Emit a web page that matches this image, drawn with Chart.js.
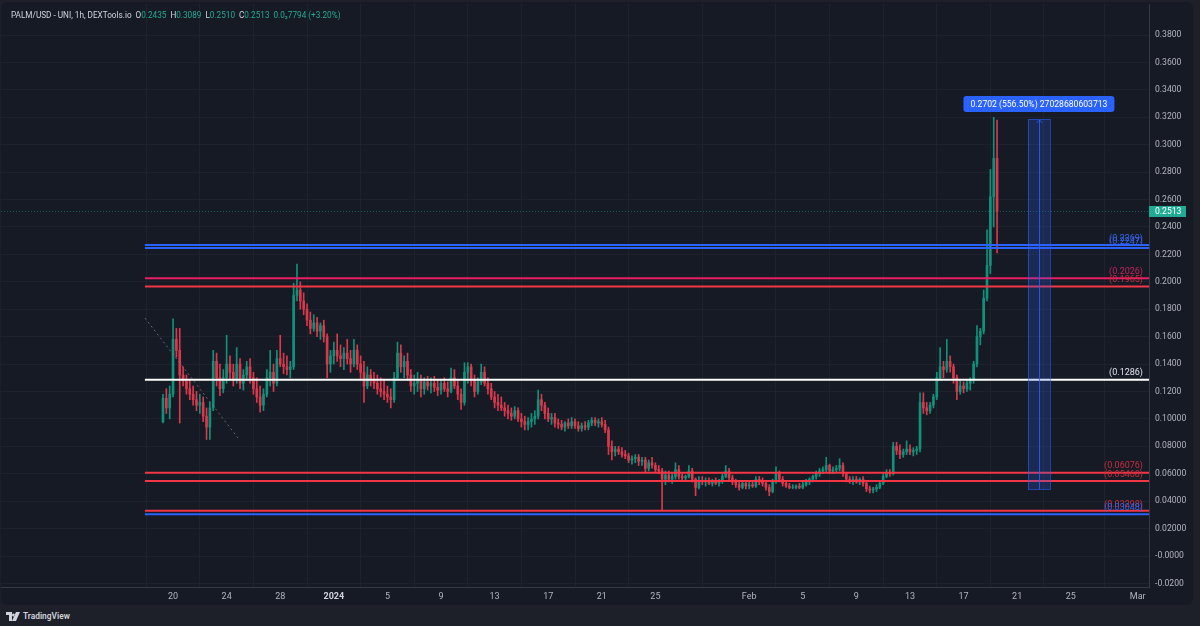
<!DOCTYPE html>
<html>
<head>
<meta charset="utf-8">
<script src="https://cdn.jsdelivr.net/npm/chart.js@4.4.0/dist/chart.umd.min.js"></script>
<style>
html, body { margin: 0; padding: 0; width: 1200px; height: 626px; overflow: hidden; background: #1e2029; font-family: Roboto, "Noto Sans", sans-serif; }
#pane { position: absolute; left: 1px; top: 2px; width: 1192px; height: 603px; background: #161a25; border-radius: 6px; overflow: hidden; }
#chart { display: block; }
#legend { position: absolute; left: 11px; top: 9px; font-size: 8.2px; line-height: 12px; color: #d1d4dc; white-space: nowrap; }
#legend .v { color: #22ab94; }
#legend .s { margin-left: 4px; }
#brand { position: absolute; left: 6px; top: 609px; height: 14px; display: flex; align-items: center; color: #d1d4dc; font-size: 8.4px; font-weight: 600; }
#brand svg { margin-right: 3px; }
</style>
</head>
<body>
<div id="pane"><canvas id="chart"></canvas></div>
<div id="legend">PALM/USD - UNI, 1h, DEXTools.io<span class="s">O</span><span class="v">0.2435</span><span class="s">H</span><span class="v">0.3089</span><span class="s">L</span><span class="v">0.2510</span><span class="s">C</span><span class="v">0.2513</span><span class="s v">0.0₂7794 (+3.20%)</span></div>
<div id="brand"><svg width="14" height="9" viewBox="0 0 14 9"><path d="M0 0h6v9H3V3H0z M7.5 1.5a1.5 1.5 0 1 0 0.01 0z M10 0h4l-4 9H6z" fill="#d1d4dc"/></svg>TradingView</div>
<script>
// days counted from Dec 20 2023 00:00, one candle = 6h
const candleStart = -0.75;
const candleStep = 0.25;

// [open, high, low, close]
const ohlc = [
    [0.098, 0.118, 0.097, 0.115], [0.115, 0.122, 0.104, 0.108], [0.108, 0.124, 0.100, 0.118], // Dec 19
    [0.118, 0.173, 0.116, 0.158], [0.158, 0.166, 0.145, 0.150], [0.150, 0.166, 0.097, 0.132], [0.132, 0.138, 0.124, 0.128], // Dec 20
    [0.128, 0.132, 0.118, 0.122], [0.122, 0.128, 0.114, 0.118], [0.118, 0.124, 0.110, 0.114], [0.114, 0.120, 0.106, 0.110],
    [0.110, 0.118, 0.104, 0.112], [0.112, 0.116, 0.098, 0.102], [0.102, 0.108, 0.085, 0.094], [0.094, 0.112, 0.085, 0.108],
    [0.108, 0.150, 0.106, 0.142], [0.142, 0.148, 0.124, 0.130], [0.130, 0.140, 0.117, 0.122], [0.122, 0.136, 0.119, 0.130],
    [0.130, 0.161, 0.126, 0.140], [0.140, 0.146, 0.128, 0.134], [0.134, 0.140, 0.124, 0.128], [0.128, 0.152, 0.126, 0.140], // Dec 24
    [0.140, 0.144, 0.122, 0.126], [0.126, 0.136, 0.121, 0.132], [0.132, 0.142, 0.128, 0.138], [0.138, 0.144, 0.126, 0.130],
    [0.130, 0.134, 0.118, 0.122], [0.122, 0.130, 0.112, 0.116], [0.116, 0.124, 0.105, 0.110], [0.110, 0.122, 0.106, 0.118],
    [0.118, 0.136, 0.116, 0.130], [0.130, 0.150, 0.124, 0.134], [0.134, 0.140, 0.120, 0.126], [0.126, 0.150, 0.124, 0.144],
    [0.144, 0.161, 0.138, 0.140], [0.140, 0.148, 0.133, 0.138], [0.138, 0.146, 0.132, 0.136], [0.136, 0.142, 0.130, 0.138], // Dec 28
    [0.138, 0.199, 0.136, 0.190], [0.190, 0.213, 0.186, 0.194], [0.194, 0.200, 0.180, 0.186], [0.186, 0.192, 0.176, 0.180],
    [0.180, 0.184, 0.168, 0.172], [0.172, 0.178, 0.162, 0.166], [0.166, 0.176, 0.164, 0.170], [0.170, 0.174, 0.160, 0.164],
    [0.164, 0.170, 0.158, 0.168], [0.168, 0.172, 0.156, 0.160], [0.160, 0.162, 0.130, 0.140], [0.140, 0.150, 0.134, 0.146],
    [0.146, 0.156, 0.140, 0.150], [0.150, 0.162, 0.142, 0.146], [0.146, 0.154, 0.138, 0.144], [0.144, 0.152, 0.136, 0.148], // Jan 1
    [0.148, 0.158, 0.140, 0.144], [0.144, 0.150, 0.134, 0.140], [0.140, 0.158, 0.138, 0.150], [0.150, 0.154, 0.136, 0.140],
    [0.140, 0.146, 0.128, 0.134], [0.134, 0.142, 0.112, 0.124], [0.124, 0.138, 0.122, 0.132], [0.132, 0.136, 0.124, 0.128],
    [0.128, 0.134, 0.122, 0.126], [0.126, 0.132, 0.118, 0.122], [0.122, 0.130, 0.116, 0.120], [0.120, 0.128, 0.114, 0.118],
    [0.118, 0.124, 0.112, 0.116], [0.116, 0.122, 0.108, 0.114], [0.114, 0.134, 0.112, 0.130], [0.130, 0.156, 0.128, 0.148], // Jan 5
    [0.148, 0.154, 0.134, 0.138], [0.138, 0.146, 0.130, 0.142], [0.142, 0.148, 0.128, 0.132], [0.132, 0.136, 0.120, 0.124],
    [0.124, 0.132, 0.118, 0.126], [0.126, 0.134, 0.120, 0.128], [0.128, 0.132, 0.116, 0.122], [0.122, 0.130, 0.118, 0.127],
    [0.127, 0.131, 0.121, 0.124], [0.124, 0.130, 0.119, 0.126], [0.126, 0.131, 0.120, 0.123], [0.123, 0.128, 0.117, 0.121],
    [0.121, 0.128, 0.118, 0.126], [0.126, 0.130, 0.120, 0.122], [0.122, 0.127, 0.116, 0.120], [0.120, 0.137, 0.119, 0.130], // Jan 9
    [0.130, 0.136, 0.122, 0.124], [0.124, 0.128, 0.114, 0.118], [0.118, 0.122, 0.107, 0.112], [0.112, 0.141, 0.110, 0.134],
    [0.134, 0.141, 0.126, 0.138], [0.138, 0.140, 0.124, 0.128], [0.128, 0.132, 0.116, 0.120], [0.120, 0.130, 0.118, 0.127],
    [0.127, 0.140, 0.125, 0.134], [0.134, 0.138, 0.124, 0.126], [0.126, 0.130, 0.118, 0.122], [0.122, 0.126, 0.114, 0.116],
    [0.116, 0.120, 0.108, 0.112], [0.112, 0.118, 0.106, 0.110], [0.110, 0.116, 0.106, 0.108], [0.108, 0.112, 0.102, 0.106], // Jan 13
    [0.106, 0.110, 0.100, 0.104], [0.104, 0.108, 0.099, 0.102], [0.102, 0.109, 0.100, 0.106], [0.106, 0.108, 0.098, 0.100],
    [0.100, 0.104, 0.094, 0.098], [0.098, 0.102, 0.092, 0.096], [0.096, 0.101, 0.092, 0.098], [0.098, 0.104, 0.094, 0.100],
    [0.100, 0.106, 0.096, 0.102], [0.102, 0.121, 0.100, 0.114], [0.114, 0.118, 0.106, 0.110], [0.110, 0.112, 0.100, 0.104],
    [0.104, 0.108, 0.098, 0.100], [0.100, 0.104, 0.096, 0.101], [0.101, 0.104, 0.094, 0.097], [0.097, 0.100, 0.093, 0.096], // Jan 17
    [0.096, 0.099, 0.092, 0.094], [0.094, 0.098, 0.091, 0.097], [0.097, 0.100, 0.093, 0.095], [0.095, 0.101, 0.093, 0.098],
    [0.098, 0.100, 0.093, 0.095], [0.095, 0.098, 0.091, 0.093], [0.093, 0.097, 0.091, 0.095], [0.095, 0.098, 0.092, 0.094],
    [0.094, 0.099, 0.092, 0.097], [0.097, 0.101, 0.095, 0.099], [0.099, 0.101, 0.095, 0.097], [0.097, 0.100, 0.094, 0.098],
    [0.098, 0.101, 0.094, 0.096], [0.096, 0.099, 0.090, 0.092], [0.092, 0.094, 0.074, 0.080], [0.080, 0.084, 0.070, 0.076], // Jan 21
    [0.076, 0.080, 0.073, 0.078], [0.078, 0.080, 0.074, 0.076], [0.076, 0.079, 0.072, 0.074], [0.074, 0.077, 0.071, 0.073],
    [0.073, 0.075, 0.068, 0.070], [0.070, 0.073, 0.067, 0.071], [0.071, 0.074, 0.068, 0.072], [0.072, 0.074, 0.066, 0.069],
    [0.069, 0.072, 0.066, 0.070], [0.070, 0.072, 0.061, 0.064], [0.064, 0.070, 0.062, 0.068], [0.068, 0.072, 0.064, 0.066],
    [0.066, 0.068, 0.061, 0.063], [0.063, 0.066, 0.060, 0.062], [0.062, 0.064, 0.033, 0.056], [0.056, 0.062, 0.052, 0.059], // Jan 25
    [0.059, 0.062, 0.054, 0.056], [0.056, 0.060, 0.053, 0.058], [0.058, 0.068, 0.056, 0.063], [0.063, 0.066, 0.056, 0.058],
    [0.058, 0.060, 0.055, 0.057], [0.057, 0.059, 0.055, 0.058], [0.058, 0.066, 0.057, 0.062], [0.062, 0.064, 0.054, 0.056],
    [0.056, 0.057, 0.044, 0.050], [0.050, 0.058, 0.049, 0.055], [0.055, 0.058, 0.052, 0.054], [0.054, 0.057, 0.051, 0.055],
    [0.055, 0.057, 0.052, 0.053], [0.053, 0.056, 0.051, 0.054], [0.054, 0.057, 0.052, 0.053], [0.053, 0.056, 0.051, 0.055], // Jan 29
    [0.055, 0.060, 0.053, 0.058], [0.058, 0.066, 0.057, 0.062], [0.062, 0.064, 0.055, 0.057], [0.057, 0.059, 0.052, 0.054],
    [0.054, 0.056, 0.050, 0.052], [0.052, 0.054, 0.048, 0.050], [0.050, 0.054, 0.049, 0.053], [0.053, 0.055, 0.049, 0.051],
    [0.051, 0.054, 0.049, 0.052], [0.052, 0.055, 0.050, 0.051], [0.051, 0.058, 0.050, 0.056], [0.056, 0.058, 0.052, 0.054], // Feb 1
    [0.054, 0.057, 0.051, 0.053], [0.053, 0.055, 0.048, 0.050], [0.050, 0.052, 0.044, 0.047], [0.047, 0.056, 0.046, 0.054],
    [0.054, 0.065, 0.053, 0.060], [0.060, 0.062, 0.054, 0.056], [0.056, 0.058, 0.051, 0.053], [0.053, 0.055, 0.050, 0.051],
    [0.051, 0.053, 0.049, 0.050], [0.050, 0.052, 0.049, 0.050], [0.050, 0.052, 0.049, 0.051], [0.051, 0.053, 0.049, 0.050],
    [0.050, 0.054, 0.049, 0.052], [0.052, 0.056, 0.051, 0.054], [0.054, 0.057, 0.052, 0.056], [0.056, 0.059, 0.054, 0.058], // Feb 5
    [0.058, 0.062, 0.056, 0.060], [0.060, 0.064, 0.058, 0.062], [0.062, 0.065, 0.060, 0.063], [0.063, 0.072, 0.061, 0.066],
    [0.066, 0.067, 0.060, 0.062], [0.062, 0.065, 0.060, 0.063], [0.063, 0.066, 0.061, 0.064], [0.064, 0.071, 0.062, 0.066],
    [0.066, 0.068, 0.058, 0.060], [0.060, 0.061, 0.054, 0.056], [0.056, 0.058, 0.053, 0.055], [0.055, 0.058, 0.052, 0.056],
    [0.056, 0.058, 0.053, 0.054], [0.054, 0.057, 0.052, 0.056], [0.056, 0.058, 0.051, 0.053], [0.053, 0.055, 0.047, 0.049], // Feb 9
    [0.049, 0.051, 0.046, 0.048], [0.048, 0.050, 0.046, 0.049], [0.049, 0.052, 0.047, 0.050], [0.050, 0.055, 0.049, 0.053],
    [0.053, 0.060, 0.052, 0.058], [0.058, 0.063, 0.057, 0.061], [0.061, 0.063, 0.058, 0.060], [0.060, 0.083, 0.059, 0.080],
    [0.080, 0.083, 0.074, 0.077], [0.077, 0.081, 0.071, 0.074], [0.074, 0.078, 0.072, 0.076], [0.076, 0.084, 0.074, 0.078],
    [0.078, 0.081, 0.074, 0.076], [0.076, 0.079, 0.073, 0.077], [0.077, 0.080, 0.074, 0.078], [0.078, 0.119, 0.076, 0.112], // Feb 13
    [0.112, 0.119, 0.104, 0.108], [0.108, 0.112, 0.103, 0.106], [0.106, 0.112, 0.104, 0.110], [0.110, 0.118, 0.108, 0.116],
    [0.116, 0.134, 0.114, 0.130], [0.130, 0.152, 0.128, 0.138], [0.138, 0.142, 0.130, 0.136], [0.136, 0.158, 0.134, 0.142],
    [0.142, 0.146, 0.134, 0.138], [0.138, 0.140, 0.126, 0.130], [0.130, 0.132, 0.114, 0.120], [0.120, 0.128, 0.118, 0.124],
    [0.124, 0.127, 0.119, 0.122], [0.122, 0.128, 0.120, 0.126], [0.126, 0.130, 0.121, 0.128], [0.128, 0.142, 0.126, 0.140], // Feb 17
    [0.140, 0.168, 0.138, 0.160], [0.160, 0.166, 0.154, 0.164], [0.164, 0.194, 0.162, 0.188], [0.188, 0.238, 0.186, 0.212],
    [0.212, 0.282, 0.206, 0.262], [0.262, 0.320, 0.240, 0.290], [0.290, 0.318, 0.221, 0.2513] // Feb 19
];

const xTickDays = [0, 4, 8, 12, 16, 20, 24, 28, 32, 36, 43, 47, 51, 55, 59, 63, 67, 72];
const xTickLabels = ['20', '24', '28', '2024', '5', '9', '13', '17', '21', '25', 'Feb', '5', '9', '13', '17', '21', '25', 'Mar'];

const yTickValues = [-0.02, 0, 0.02, 0.04, 0.06, 0.08, 0.10, 0.12, 0.14, 0.16, 0.18, 0.20, 0.22, 0.24, 0.26, 0.28, 0.30, 0.32, 0.34, 0.36, 0.38];
const yTickLabels = ['-0.0200', '-0.0000', '0.02000', '0.04000', '0.06000', '0.08000', '0.10000', '0.1200', '0.1400', '0.1600', '0.1800', '0.2000', '0.2200', '0.2400', '0.2600', '0.2800', '0.3000', '0.3200', '0.3400', '0.3600', '0.3800'];

// horizontal levels drawn on the chart
const levelValues = [0.2269, 0.2247, 0.2026, 0.1965, 0.1286, 0.06076, 0.05468, 0.03298, 0.03048];
const levelLabels = ['(0.2269)', '(0.2247)', '(0.2026)', '(0.1965)', '(0.1286)', '(0.06076)', '(0.05468)', '(0.03298)', '(0.03048)'];
const levelStartDay = -2.1;

const lastPrice = 0.2513;
const measureLow = 0.04855;
const measureHigh = 0.31875;
const measureDays = [63.8, 65.45];
const measureText = '0.2702 (556.50%) 27028680603713';

const trendDays = [-2.1, 4.85];
const trendValues = [0.1736, 0.0861];

// styles
const upColor = '#10917b';
const downColor = '#d8394b';
const levelColors = ['#2962ff', '#2962ff', '#e91e63', '#f23645', '#ffffff', '#f23645', '#f23645', '#f23645', '#2962ff'];
const levelTextColors = ['#3563e9', '#3563e9', '#c2255c', '#c62f3e', '#e0e3eb', '#c62f3e', '#c62f3e', '#c62f3e', '#3563e9'];

const xMin = -12.84, xMax = 72.84;
const yMin = -0.02261, yMax = 0.40263;

const wicks = ohlc.map((c, i) => ({ x: candleStart + i * candleStep, y: [c[2], c[1]] }));
const bodies = ohlc.map((c, i) => ({ x: candleStart + i * candleStep, y: [c[0], c[3]] }));
const candleColor = ctx => {
    const c = ohlc[ctx.dataIndex];
    return c[3] >= c[0] ? upColor : downColor;
};

const overlay = {
    id: 'overlay',
    beforeDatasetsDraw(chart) {
        const { ctx, chartArea: a, scales: { y } } = chart;
        const py = Math.round(y.getPixelForValue(lastPrice)) + 0.5;
        ctx.save();
        ctx.strokeStyle = 'rgba(34,171,148,0.45)';
        ctx.lineWidth = 1;
        ctx.setLineDash([1, 2]);
        ctx.beginPath();
        ctx.moveTo(a.left, py);
        ctx.lineTo(a.right, py);
        ctx.stroke();
        ctx.restore();
    },
    afterDatasetsDraw(chart) {
        const { ctx, chartArea: a, scales: { x, y } } = chart;
        ctx.save();
        ctx.beginPath();
        ctx.rect(a.left, a.top, a.right - a.left, a.bottom - a.top);
        ctx.clip();

        // dotted trend line
        ctx.strokeStyle = 'rgba(120,123,134,0.8)';
        ctx.lineWidth = 1;
        ctx.setLineDash([2, 3]);
        ctx.beginPath();
        ctx.moveTo(x.getPixelForValue(trendDays[0]), y.getPixelForValue(trendValues[0]));
        ctx.lineTo(x.getPixelForValue(trendDays[1]), y.getPixelForValue(trendValues[1]));
        ctx.stroke();
        ctx.setLineDash([]);

        // levels
        const x0 = x.getPixelForValue(levelStartDay);
        levelValues.forEach((v, i) => {
            const py = y.getPixelForValue(v);
            ctx.strokeStyle = levelColors[i];
            ctx.lineWidth = 2;
            ctx.beginPath();
            ctx.moveTo(x0, py);
            ctx.lineTo(a.right, py);
            ctx.stroke();
        });
        ctx.font = '9px Roboto, sans-serif';
        ctx.textAlign = 'right';
        ctx.textBaseline = 'bottom';
        levelValues.forEach((v, i) => {
            const py = y.getPixelForValue(v);
            ctx.fillStyle = levelTextColors[i];
            ctx.fillText(levelLabels[i], a.right - 6, py - 2);
        });

        // price range measure
        const mx0 = x.getPixelForValue(measureDays[0]);
        const mx1 = x.getPixelForValue(measureDays[1]);
        const my0 = y.getPixelForValue(measureHigh);
        const my1 = y.getPixelForValue(measureLow);
        ctx.fillStyle = 'rgba(41,98,255,0.22)';
        ctx.fillRect(mx0, my0, mx1 - mx0, my1 - my0);
        ctx.strokeStyle = 'rgba(41,98,255,0.55)';
        ctx.lineWidth = 1;
        ctx.strokeRect(Math.round(mx0) + 0.5, Math.round(my0) + 0.5, Math.round(mx1 - mx0), Math.round(my1 - my0));
        const mc = Math.round((mx0 + mx1) / 2) + 0.5;
        ctx.strokeStyle = 'rgba(41,98,255,0.8)';
        ctx.beginPath();
        ctx.moveTo(mc, my1);
        ctx.lineTo(mc, my0 + 1);
        ctx.moveTo(mc - 3, my0 + 4);
        ctx.lineTo(mc, my0 + 1);
        ctx.lineTo(mc + 3, my0 + 4);
        ctx.stroke();
        ctx.restore();

        ctx.save();
        ctx.font = '8.6px Roboto, sans-serif';
        const tw = ctx.measureText(measureText).width + 14;
        const bx = (mx0 + mx1) / 2 - tw / 2;
        const by = my0 - 23;
        ctx.fillStyle = '#2962ff';
        ctx.beginPath();
        ctx.roundRect(bx, by, tw, 16, 3);
        ctx.fill();
        ctx.fillStyle = '#ffffff';
        ctx.textAlign = 'center';
        ctx.textBaseline = 'middle';
        ctx.fillText(measureText, (mx0 + mx1) / 2, by + 8.5);

        // last price tag on the axis
        const py = y.getPixelForValue(lastPrice);
        ctx.fillStyle = '#22ab94';
        ctx.fillRect(a.right, py - 5.5, 37, 11);
        ctx.fillStyle = '#ffffff';
        ctx.font = '8.6px Roboto, sans-serif';
        ctx.textAlign = 'left';
        ctx.fillText(lastPrice.toFixed(4), a.right + 6, py + 0.5);
        ctx.restore();
    }
};

new Chart(document.getElementById('chart'), {
    type: 'bar',
    data: {
        datasets: [
            { data: wicks, backgroundColor: candleColor, barThickness: 1, grouped: false, order: 2 },
            { data: bodies, backgroundColor: candleColor, barThickness: 2, grouped: false, order: 1 }
        ]
    },
    options: {
        responsive: true,
        maintainAspectRatio: false,
        animation: false,
        devicePixelRatio: 1,
        layout: { padding: { top: 2, left: 0, right: 0, bottom: 0 } },
        plugins: { legend: { display: false }, tooltip: { enabled: false } },
        scales: {
            x: {
                type: 'linear',
                min: xMin,
                max: xMax,
                offset: false,
                grid: { color: '#1e222d', drawTicks: false },
                border: { color: '#363a45' },
                afterBuildTicks: s => { s.ticks = xTickDays.map(v => ({ value: v })); },
                afterFit: s => { s.height = 18; s.paddingLeft = 0; s.paddingRight = 0; },
                ticks: {
                    autoSkip: false,
                    maxRotation: 0,
                    padding: 4,
                    callback: (v, i) => xTickLabels[i],
                    color: c => (c.tick && c.tick.value === 12 ? '#d1d4dc' : '#b2b5be'),
                    font: c => ({ family: 'Roboto, sans-serif', size: 9, weight: c.tick && c.tick.value === 12 ? 'bold' : 'normal' })
                }
            },
            y: {
                position: 'right',
                min: yMin,
                max: yMax,
                grid: { color: '#1e222d', drawTicks: false },
                border: { color: '#363a45' },
                afterBuildTicks: s => { s.ticks = yTickValues.map(v => ({ value: v })); },
                afterFit: s => { s.width = 44; s.paddingTop = 0; s.paddingBottom = 0; },
                ticks: {
                    padding: 6,
                    callback: (v, i) => yTickLabels[i],
                    color: '#b2b5be',
                    font: { family: 'Roboto, sans-serif', size: 8.6 }
                }
            }
        }
    },
    plugins: [overlay]
});
</script>
</body>
</html>
